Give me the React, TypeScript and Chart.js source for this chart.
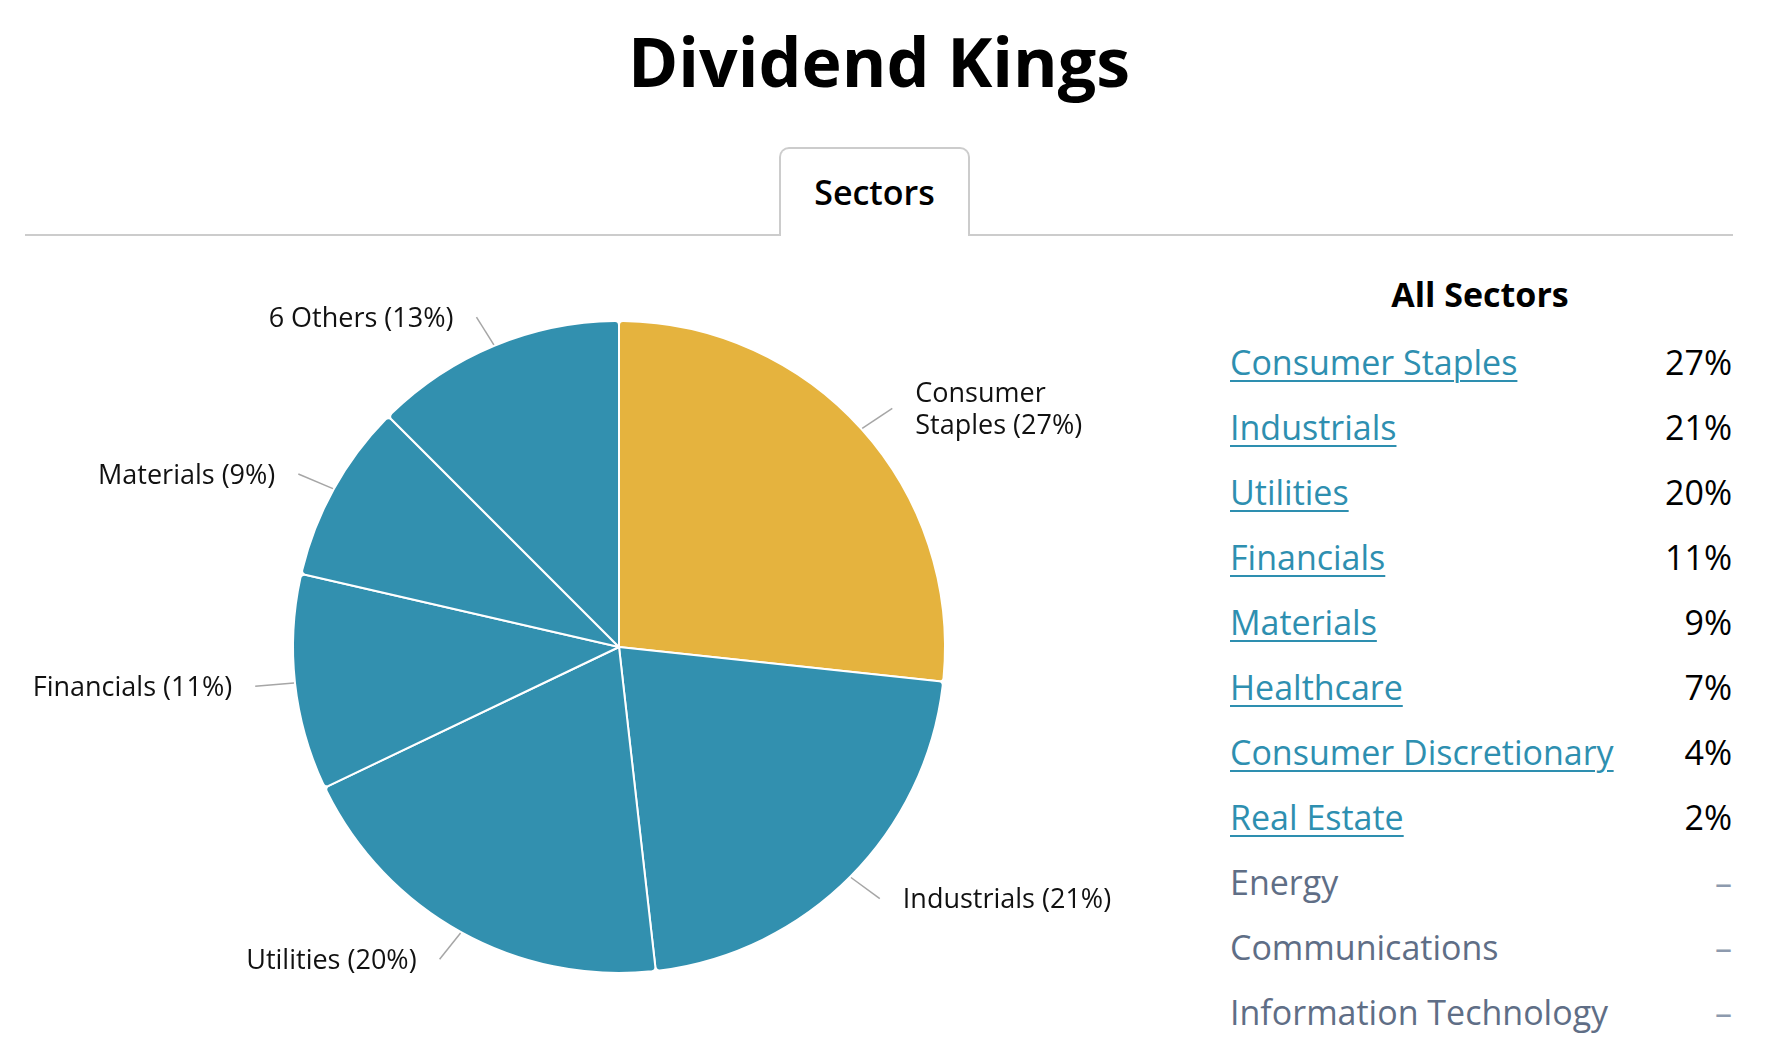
import React, { useEffect, useRef } from "react";
import { Chart, registerables } from "chart.js";

Chart.register(...registerables);

// ---- Data ----
const sliceNames = ["Consumer Staples", "Industrials", "Utilities", "Financials", "Materials", "6 Others"];
const sliceShares = [26.7, 21.5, 19.7, 10.7, 8.9, 12.5];
const slicePercents = [27, 21, 20, 11, 9, 13];
const sliceColors = ["#E5B33E", "#3290AF", "#3290AF", "#3290AF", "#3290AF", "#3290AF"];

const tableSectors = [
  "Consumer Staples",
  "Industrials",
  "Utilities",
  "Financials",
  "Materials",
  "Healthcare",
  "Consumer Discretionary",
  "Real Estate",
  "Energy",
  "Communications",
  "Information Technology",
];
const tablePercents = ["27%", "21%", "20%", "11%", "9%", "7%", "4%", "2%", "–", "–", "–"];

const FONT = "'Open Sans', 'Noto Sans', sans-serif";

function wrapText(ctx: CanvasRenderingContext2D, text: string, maxW: number): string[] {
  const words = text.split(" ");
  const lines: string[] = [];
  let cur = "";
  for (const w of words) {
    const test = cur ? cur + " " + w : w;
    if (cur && ctx.measureText(test).width > maxW) {
      lines.push(cur);
      cur = w;
    } else {
      cur = test;
    }
  }
  if (cur) lines.push(cur);
  return lines;
}

const leaderLabels = {
  id: "leaderLabels",
  afterDatasetsDraw(chart: any) {
    const ctx: CanvasRenderingContext2D = chart.ctx;
    const meta = chart.getDatasetMeta(0);
    const labels: string[] = chart.data.labels;
    const fs = 27;
    ctx.save();
    ctx.font = `400 ${fs}px ${FONT}`;
    meta.data.forEach((arc: any, i: number) => {
      const { x, y, startAngle, endAngle, outerRadius } = arc.getProps(
        ["x", "y", "startAngle", "endAngle", "outerRadius"],
        true
      );
      const mid = (startAngle + endAngle) / 2;
      const c = Math.cos(mid);
      const s = Math.sin(mid);
      const right = c >= 0;
      const sign = right ? 1 : -1;
      const r1 = outerRadius + 1;
      const r2 = outerRadius + 36;
      const x1 = x + c * r1;
      const y1 = y + s * r1;
      const x2 = x + c * r2 + sign * 4;
      const y2 = y + s * r2 - s * 5;
      ctx.strokeStyle = "#A6A6A6";
      ctx.lineWidth = 1.5;
      ctx.beginPath();
      ctx.moveTo(x1, y1);
      ctx.lineTo(x2, y2);
      ctx.stroke();

      const text = `${labels[i]} (${slicePercents[i]}%)`;
      const lines = wrapText(ctx, text, 224);
      ctx.textAlign = right ? "left" : "right";
      ctx.textBaseline = "alphabetic";
      ctx.fillStyle = "#111111";
      const tx = x2 + sign * 23;
      const lh = 32;
      const top = y2 - ((lines.length - 1) * lh) / 2;
      lines.forEach((ln, k) => {
        ctx.fillText(ln, tx, top + k * lh + fs * 0.357);
      });
    });
    ctx.restore();
  },
};

function PieChart() {
  const ref = useRef<HTMLCanvasElement | null>(null);
  useEffect(() => {
    if (!ref.current) return;
    const chart = new Chart(ref.current, {
      type: "pie",
      data: {
        labels: sliceNames,
        datasets: [
          {
            data: sliceShares,
            backgroundColor: sliceColors,
            borderColor: "#ffffff",
            borderWidth: 2,
            borderRadius: 4,
            radius: 326,
          } as any,
        ],
      },
      options: {
        animation: false,
        responsive: false,
        maintainAspectRatio: false,
        devicePixelRatio: 1,
        layout: { padding: { left: 178, right: 160, top: 0, bottom: 4 } },
        plugins: {
          legend: { display: false },
          tooltip: { enabled: false },
        },
        events: [],
      } as any,
      plugins: [leaderLabels],
    });
    return () => chart.destroy();
  }, []);
  return (
    <canvas
      ref={ref}
      width={1220}
      height={818}
      style={{ position: "absolute", left: 0, top: 240, width: 1220, height: 818 }}
    />
  );
}

export default function App() {
  const rowH = 65;
  const firstRowCenter = 362;
  return (
    <div
      style={{
        position: "absolute",
        left: 0,
        top: 0,
        width: 1768,
        height: 1058,
        background: "#ffffff",
        fontFamily: FONT,
        overflow: "hidden",
      }}
    >
      {/* Title */}
      <div
        style={{
          position: "absolute",
          left: 25,
          width: 1708,
          top: 27,
          fontSize: 68,
          lineHeight: "68px",
          fontWeight: 700,
          textAlign: "center",
          color: "#000",
          whiteSpace: "nowrap",
        }}
      >
        Dividend Kings
      </div>

      {/* Separator line */}
      <div
        style={{
          position: "absolute",
          left: 25,
          width: 1708,
          top: 234,
          height: 2,
          background: "#CCCCCC",
        }}
      />

      {/* Tab */}
      <div
        style={{
          position: "absolute",
          left: 779,
          top: 147,
          width: 191,
          height: 89,
          boxSizing: "border-box",
          border: "2px solid #CCCCCC",
          borderBottom: "none",
          borderTopLeftRadius: 10,
          borderTopRightRadius: 10,
          background: "#ffffff",
        }}
      />
      <div
        style={{
          position: "absolute",
          left: 779,
          width: 191,
          top: 175,
          fontSize: 34,
          lineHeight: "34px",
          fontWeight: 600,
          textAlign: "center",
          color: "#000",
          whiteSpace: "nowrap",
        }}
      >
        Sectors
      </div>

      <PieChart />

      {/* All Sectors table */}
      <div
        style={{
          position: "absolute",
          left: 1230,
          width: 500,
          top: 294 - rowH / 2,
          height: rowH,
          lineHeight: `${rowH}px`,
          fontSize: 34,
          fontWeight: 700,
          textAlign: "center",
          color: "#000",
          whiteSpace: "nowrap",
        }}
      >
        All Sectors
      </div>
      {tableSectors.map((name, i) => {
        const isDash = tablePercents[i] === "–";
        return (
          <div
            key={name}
            style={{
              position: "absolute",
              left: 1230,
              width: 502,
              top: firstRowCenter - rowH / 2 + i * rowH,
              height: rowH,
              lineHeight: `${rowH}px`,
              fontSize: 34,
              display: "flex",
              justifyContent: "space-between",
              whiteSpace: "nowrap",
            }}
          >
            <span
              style={{
                color: isDash ? "#5F6E86" : "#2E8FB0",
                textDecoration: isDash ? "none" : "underline",
                textDecorationThickness: 2,
                textUnderlineOffset: 5,
              }}
            >
              {name}
            </span>
            <span style={{ color: isDash ? "#8D9AAE" : "#000" }}>{tablePercents[i]}</span>
          </div>
        );
      })}
    </div>
  );
}
